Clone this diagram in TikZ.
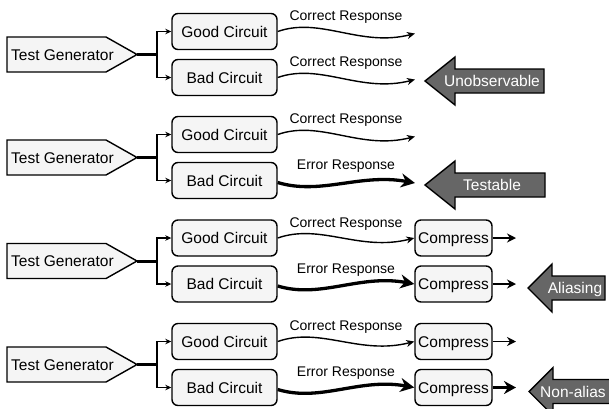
\documentclass[tikz,border=0pt]{standalone}
\usepackage{fontspec}
\setmainfont{Liberation Sans}
\usetikzlibrary{arrows.meta}
\definecolor{boxfill}{HTML}{F5F5F5}
\definecolor{arrowgray}{HTML}{666666}
\tikzset{
  boxfont/.style={font=\fontsize{15.5}{18}\selectfont, text height=11.1pt, text depth=0pt},
  circ/.style={draw, line width=1.4pt, rounded corners=6pt, fill=boxfill, minimum width=105pt, minimum height=36pt, inner sep=0pt, boxfont},
  comp/.style={circ, minimum width=77pt},
  gen/.style={draw, line width=1.4pt, fill=boxfill},
  gentext/.style={boxfont, anchor=west, inner sep=0pt},
  lbl/.style={font=\fontsize{14}{16}\selectfont, inner sep=0pt, anchor=base},
  cwave/.style={line width=1.4pt, -{Stealth[length=8pt,width=7pt]}},
  ewave/.style={line width=3.3pt, -{Stealth[length=14pt,width=14pt]}},
  feed/.style={line width=1.3pt, -{Stealth[length=6pt,width=5.5pt]}},
  stub/.style={line width=3pt},
  othin/.style={line width=1.8pt, -{Stealth[length=9pt,width=9pt]}},
  othick/.style={line width=2.8pt, -{Stealth[length=12pt,width=13pt]}},
  big/.style={draw=black, line width=1.4pt, fill=arrowgray, line join=miter},
  bigtext/.style={font=\fontsize{15.5}{18}\selectfont, text=white, inner sep=0pt, text height=11.1pt, text depth=0pt},
}
\newcommand\grayarrow[5]{% tipx, y, backx, rightx
  \draw[big] (#1,#2) -- (#3,#2-24) -- (#3,#2-12) -- (#4,#2-12) -- (#4,#2+12) -- (#3,#2+12) -- (#3,#2+24) -- cycle;
}
\begin{document}
\begin{tikzpicture}[x=1pt,y=-1pt]
\clip (0,0) rectangle (609,408);
\useasboundingbox (0,0) rectangle (609,408);

\foreach \r/\c in {1/54.5,2/157.5,3/261,4/364.5}{
  \draw[gen] (7,\c-17.5) -- (106,\c-17.5) -- (137,\c) -- (106,\c+17.5) -- (7,\c+17.5) -- cycle;
  \node[gentext] (tg\r) at (11,\c) {Test Generator};
  \coordinate (tip\r) at (137,\c);
  \coordinate (j\r) at (157,\c);
  \node[circ] (gc\r) at (224.5,\c-23) {Good Circuit};
  \node[circ] (bc\r) at (224.5,\c+23) {Bad Circuit};
  \draw[stub] (tip\r) -- (j\r);
  \draw[feed] (j\r) |- (gc\r.west);
  \draw[feed] (j\r) |- (bc\r.west);
}

% Row 1
\coordinate (e1g) at (415,33.5);
\coordinate (e1b) at (415,79.5);
\draw[cwave] (gc1.east) .. controls +(43,-15) and +(-55,14) .. (e1g);
\draw[cwave] (bc1.east) .. controls +(43,-15) and +(-55,14) .. (e1b);
\node[lbl] (l1g) at (346,20.5) {Correct Response};
\node[lbl] (l1b) at (346,66.5) {Correct Response};
\grayarrow{425}{81}{455}{544}{}
\node[bigtext] (a1) at (492,81) {Unobservable};

% Row 2
\coordinate (e2g) at (415,136.5);
\coordinate (e2b) at (415,183);
\draw[cwave] (gc2.east) .. controls +(43,-15) and +(-55,14) .. (e2g);
\draw[ewave] ([yshift=-2pt]bc2.east) .. controls +(43,13) and +(-55,-10) .. (e2b);
\node[lbl] (l2g) at (346,123.5) {Correct Response};
\node[lbl] (l2b) at (346,169.5) {Error Response};
\grayarrow{425}{185}{455}{545}{}
\node[bigtext] (a2) at (492,185) {Testable};

% Row 3
\node[comp] (cg3) at (453.5,238) {Compress};
\node[comp] (cb3) at (453.5,284) {Compress};
\draw[cwave] (gc3.east) .. controls +(43,-15) and +(-55,14) .. (cg3.west);
\draw[ewave] ([yshift=-2pt]bc3.east) .. controls +(43,13) and +(-55,-10) .. (cb3.west);
\node[lbl] (l3g) at (346,227) {Correct Response};
\node[lbl] (l3b) at (346,273) {Error Response};
\coordinate (o3g) at (516,238);
\coordinate (o3b) at (516,284);
\draw[othin] (cg3.east) -- (o3g);
\draw[othin] (cb3.east) -- (o3b);
\grayarrow{528}{288}{552}{605}{}
\node[bigtext] (a3) at (575,288) {Aliasing};

% Row 4
\node[comp] (cg4) at (453.5,341.5) {Compress};
\node[comp] (cb4) at (453.5,387.5) {Compress};
\draw[cwave] (gc4.east) .. controls +(43,-15) and +(-55,14) .. (cg4.west);
\draw[ewave] ([yshift=-2pt]bc4.east) .. controls +(43,13) and +(-55,-10) .. (cb4.west);
\node[lbl] (l4g) at (346,330.5) {Correct Response};
\node[lbl] (l4b) at (346,376.5) {Error Response};
\coordinate (o4g) at (516,341.5);
\coordinate (o4b) at (516,387.5);
\draw[othin] (cg4.east) -- (o4g);
\draw[othick] (cb4.east) -- (o4b);
\grayarrow{529}{391.5}{553}{625}{}
\node[bigtext, anchor=west] (a4) at (540,391.5) {Non-alias};
\end{tikzpicture}
\end{document}
